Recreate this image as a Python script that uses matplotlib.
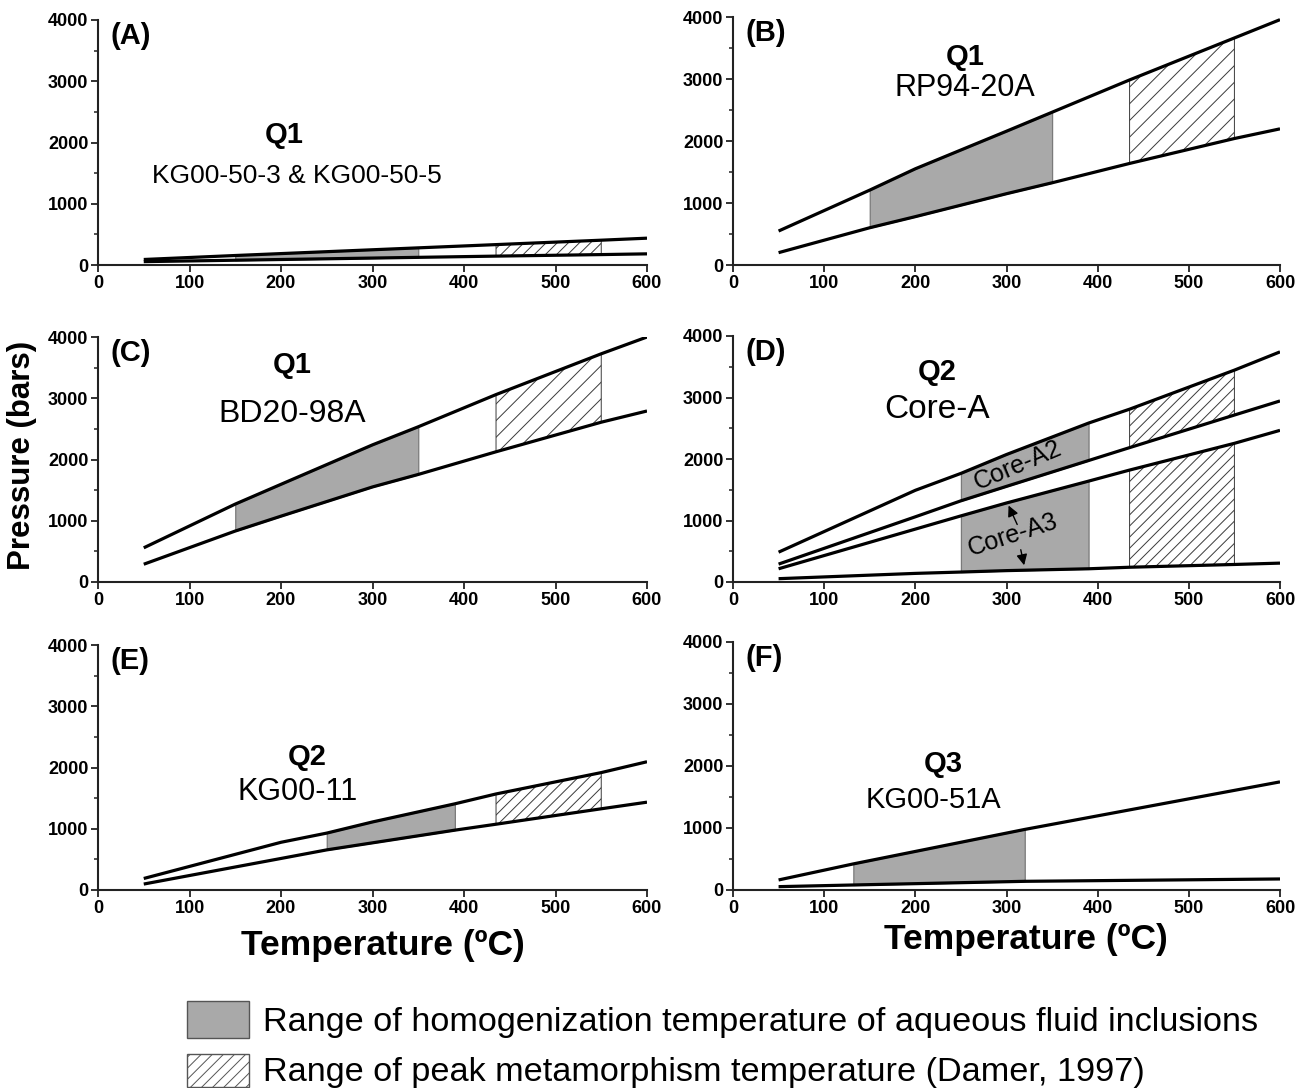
import numpy as np
import matplotlib
matplotlib.use("Agg")
import matplotlib.pyplot as plt
from matplotlib.patches import Rectangle

plt.rcParams["font.family"] = ["Liberation Sans", "DejaVu Sans"]
plt.rcParams["hatch.linewidth"] = 0.7

# temperature breakpoints (ºC) and pressures (bars)
a_temp = [50, 150, 350, 435, 550, 600]
a_upper = [90, 155, 280, 333, 405, 438]
a_lower = [55, 78, 125, 145, 170, 182]

b_temp = [50, 150, 200, 300, 350, 435, 550, 600]
b_upper = [548, 1208, 1552, 2158, 2464, 2985, 3662, 3957]
b_lower = [199, 601, 780, 1150, 1326, 1638, 2040, 2196]

c_temp = [50, 150, 200, 300, 350, 435, 550, 600]
c_upper = [558, 1272, 1595, 2239, 2534, 3060, 3726, 4000]
c_lower = [290, 832, 1075, 1552, 1756, 2126, 2609, 2792]

d_temp = [50, 200, 250, 300, 390, 435, 550, 600]
d_line1 = [485, 1491, 1766, 2073, 2584, 2810, 3445, 3742]
d_line2 = [291, 1060, 1320, 1555, 1975, 2185, 2715, 2944]
d_line3 = [215, 860, 1075, 1285, 1640, 1820, 2255, 2466]
d_line4 = [54, 140, 162, 185, 215, 240, 285, 307]

e_temp = [50, 200, 250, 300, 390, 435, 550, 600]
e_upper = [188, 779, 929, 1111, 1407, 1568, 1917, 2094]
e_lower = [97, 515, 655, 770, 977, 1074, 1326, 1434]

f_temp = [50, 132, 320, 600]
f_upper = [162, 421, 977, 1744]
f_lower = [54, 81, 140, 178]

# (homogenization range, peak metamorphism range) per panel
a_ranges = [(150, 350), (435, 550)]
b_ranges = [(150, 350), (435, 550)]
c_ranges = [(150, 350), (435, 550)]
d_ranges = [(250, 390), (435, 550)]
e_ranges = [(250, 390), (435, 550)]
f_ranges = [(132, 320), None]

W, H = 1301, 1088
fig = plt.figure(figsize=(W / 100, H / 100), dpi=100)

tick_font = dict(family=["Liberation Sans", "DejaVu Sans"], weight="bold", size=13)


def make_axes(left, top, right, bottom):
    ax = fig.add_axes([left / W, 1 - bottom / H, (right - left) / W, (bottom - top) / H])
    ax.set_xlim(0, 600)
    ax.set_ylim(0, 4000)
    for s in ["top", "right"]:
        ax.spines[s].set_visible(False)
    for s in ["left", "bottom"]:
        ax.spines[s].set_linewidth(1.5)
        ax.spines[s].set_color("#222222")
    ax.set_xticks(range(0, 601, 100))
    ax.set_yticks(range(0, 4001, 1000))
    ax.set_yticks(range(500, 4000, 1000), minor=True)
    ax.tick_params(which="major", direction="out", length=5, width=1.3, color="#222222", pad=2)
    ax.tick_params(which="minor", direction="out", length=3, width=1.1, color="#222222")
    for lab in ax.get_xticklabels() + ax.get_yticklabels():
        lab.set_fontproperties(tick_font)
    return ax


def shade(ax, temp, low, high, lo, hi, kind, hatch):
    t = np.array(temp)
    mask = (t >= lo) & (t <= hi)
    if kind == "gray":
        ax.fill_between(t, low, high, where=mask, facecolor="#a9a9a9",
                        edgecolor="#7a7a7a", linewidth=0.9, zorder=1)
    else:
        ax.fill_between(t, low, high, where=mask, facecolor="none", hatch=hatch,
                        edgecolor="#3a3a3a", linewidth=0.7, zorder=1)


def panel(ax, temp, lines, bands, ranges, hatch="///"):
    for ln in lines:
        ax.plot(temp, ln, color="black", linewidth=2.3, solid_capstyle="butt", zorder=3)
    kinds = ["gray", "hatch"]
    for rng, kind in zip(ranges, kinds):
        if rng is None:
            continue
        for low, high in bands:
            shade(ax, temp, low, high, rng[0], rng[1], kind, hatch)


def labels(ax, tag, q, sample, qpos, spos, ssize):
    ax.text(0.022, 0.935, tag, transform=ax.transAxes, fontsize=21,
            fontweight="bold", va="center", ha="left")
    ax.text(qpos[0], qpos[1], q, transform=ax.transAxes, fontsize=21,
            fontweight="bold", va="center", ha="center")
    ax.text(spos[0], spos[1], sample, transform=ax.transAxes, fontsize=ssize,
            va="center", ha="center")


axA = make_axes(98, 20, 647, 265)
panel(axA, a_temp, [a_upper, a_lower], [(a_lower, a_upper)], a_ranges)
labels(axA, "(A)", "Q1", "KG00-50-3 & KG00-50-5", (0.34, 0.53), (0.362, 0.363), 19)

axB = make_axes(733, 17, 1280, 265)
panel(axB, b_temp, [b_upper, b_lower], [(b_lower, b_upper)], b_ranges, hatch="//")
labels(axB, "(B)", "Q1", "RP94-20A", (0.424, 0.839), (0.424, 0.714), 22)

axC = make_axes(98, 337, 647, 582)
panel(axC, c_temp, [c_upper, c_lower], [(c_lower, c_upper)], c_ranges, hatch="//")
labels(axC, "(C)", "Q1", "BD20-98A", (0.353, 0.886), (0.353, 0.686), 23)

axD = make_axes(733, 336, 1280, 582)
panel(axD, d_temp, [d_line1, d_line2, d_line3, d_line4],
      [(d_line4, d_line3), (d_line2, d_line1)], d_ranges)
labels(axD, "(D)", "Q2", "Core-A", (0.373, 0.854), (0.373, 0.70), 24)
axD.text(312, 1900, "Core-A2", fontsize=18, rotation=23, ha="center", va="center", zorder=4)
axD.text(307, 770, "Core-A3", fontsize=18, rotation=18, ha="center", va="center", zorder=4)
axD.annotate("", xy=(301, 1285), xytext=(313, 894),
             arrowprops=dict(arrowstyle="-|>", color="black", lw=1.0, mutation_scale=16), zorder=4)
axD.annotate("", xy=(320, 228), xytext=(315, 569),
             arrowprops=dict(arrowstyle="-|>", color="black", lw=1.0, mutation_scale=16), zorder=4)

axE = make_axes(98, 645, 647, 890)
panel(axE, e_temp, [e_upper, e_lower], [(e_lower, e_upper)], e_ranges)
labels(axE, "(E)", "Q2", "KG00-11", (0.381, 0.543), (0.364, 0.40), 22)

axF = make_axes(733, 642, 1280, 890)
panel(axF, f_temp, [f_upper, f_lower], [(f_lower, f_upper)], f_ranges)
labels(axF, "(F)", "Q3", "KG00-51A", (0.384, 0.508), (0.367, 0.363), 21)

# shared axis titles
fig.text(22 / W, 1 - 455 / H, "Pressure (bars)", rotation=90, fontsize=22.5,
         fontweight="bold", ha="center", va="center")
fig.text(383 / W, 1 - 945 / H, "Temperature (ºC)", fontsize=25.5,
         fontweight="bold", ha="center", va="center")
fig.text(1026 / W, 1 - 940 / H, "Temperature (ºC)", fontsize=25.5,
         fontweight="bold", ha="center", va="center")

# legend
fig.patches.append(Rectangle((187 / W, 1 - 1038 / H), 62 / W, 37 / H, transform=fig.transFigure,
                             facecolor="#a9a9a9", edgecolor="#555555", linewidth=1.0))
fig.patches.append(Rectangle((187 / W, 1 - 1087 / H), 62 / W, 33 / H, transform=fig.transFigure,
                             facecolor="white", edgecolor="#555555", linewidth=1.0, hatch="///"))
fig.text(263 / W, 1 - 1022 / H, "Range of homogenization temperature of aqueous fluid inclusions",
         fontsize=24.7, ha="left", va="center")
fig.text(263 / W, 1 - 1073 / H, "Range of peak metamorphism temperature (Damer, 1997)",
         fontsize=24.7, ha="left", va="center")

fig.savefig("out.png", dpi=100)
